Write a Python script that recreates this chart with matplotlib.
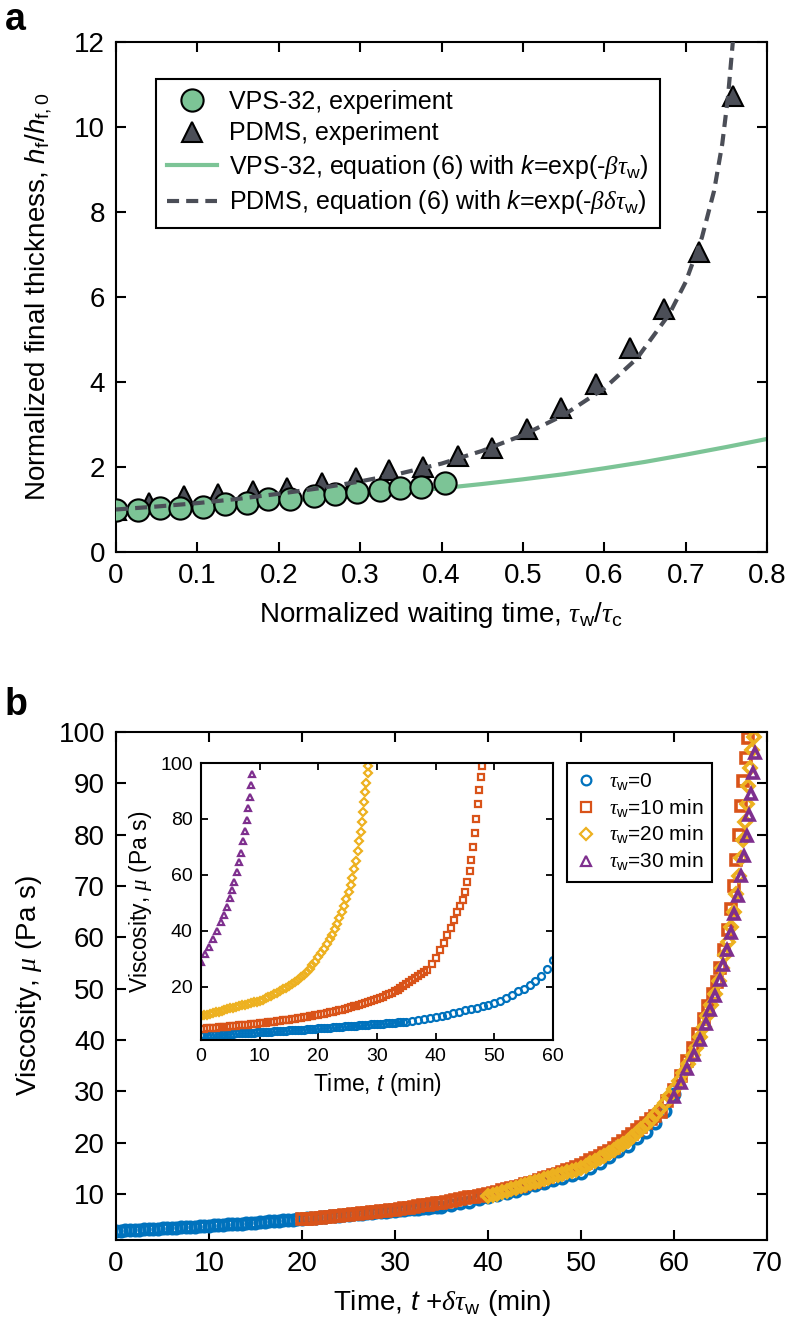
import numpy as np
import matplotlib
matplotlib.use("Agg")
import matplotlib.pyplot as plt
from matplotlib.lines import Line2D

plt.rcParams['font.family'] = ['Liberation Sans', 'DejaVu Sans']
plt.rcParams['mathtext.fontset'] = 'custom'
plt.rcParams['mathtext.rm'] = 'Liberation Sans'
plt.rcParams['mathtext.it'] = 'Liberation Sans:italic'
plt.rcParams['mathtext.bf'] = 'Liberation Sans:bold'
plt.rcParams['mathtext.sf'] = 'Liberation Serif:italic'

# ---------------- panel a data ----------------
vps_x = [0.0, 0.027, 0.054, 0.079, 0.107, 0.134, 0.161, 0.187, 0.214, 0.243,
         0.269, 0.296, 0.324, 0.349, 0.375, 0.404]
vps_y = [1.0, 1.0, 1.04, 1.03, 1.07, 1.12, 1.16, 1.25, 1.24, 1.32,
         1.37, 1.41, 1.45, 1.50, 1.53, 1.63]
pdms_x = [0.0, 0.041, 0.083, 0.125, 0.168, 0.21, 0.253, 0.295, 0.336, 0.377,
          0.42, 0.462, 0.505, 0.547, 0.59, 0.632, 0.673, 0.716, 0.758]
pdms_y = [1.0, 1.16, 1.32, 1.37, 1.44, 1.51, 1.63, 1.75, 1.92, 2.0,
          2.26, 2.45, 2.9, 3.4, 3.95, 4.8, 5.72, 7.05, 10.72]
vps_fit_x = [0, 0.05, 0.1, 0.15, 0.2, 0.25, 0.3, 0.35, 0.4, 0.45, 0.5, 0.55,
             0.6, 0.65, 0.7, 0.75, 0.8]
vps_fit_y = [1.0, 1.04, 1.08, 1.13, 1.19, 1.26, 1.33, 1.41, 1.5, 1.6, 1.71, 1.83,
             1.97, 2.12, 2.29, 2.47, 2.66]
pdms_fit_x = [0, 0.05, 0.1, 0.15, 0.2, 0.25, 0.3, 0.35, 0.4, 0.45, 0.5, 0.55,
              0.6, 0.64, 0.68, 0.7, 0.72, 0.735, 0.745, 0.752, 0.758, 0.762]
pdms_fit_y = [1.0, 1.07, 1.15, 1.25, 1.37, 1.5, 1.66, 1.85, 2.08, 2.38, 2.75, 3.22,
              3.85, 4.55, 5.6, 6.35, 7.4, 8.5, 9.6, 10.7, 12.0, 13.0]
a_xticks = [0, 0.1, 0.2, 0.3, 0.4, 0.5, 0.6, 0.7, 0.8]
a_xticklabels = ['0', '0.1', '0.2', '0.3', '0.4', '0.5', '0.6', '0.7', '0.8']
a_yticks = [0, 2, 4, 6, 8, 10, 12]

# ---------------- panel b data ----------------
# tau_w = 0 (blue circles)
t0 = list(np.arange(0, 35.01, 0.5)) + list(range(36, 61))
mu0 = [2.80, 2.84, 2.88, 2.93, 2.97, 3.02, 3.06, 3.11, 3.15, 3.20, 3.25, 3.30,
       3.35, 3.40, 3.45, 3.50, 3.56, 3.61, 3.67, 3.73, 3.79, 3.85, 3.91, 3.97,
       4.03, 4.09, 4.15, 4.21, 4.28, 4.34, 4.41, 4.47, 4.54, 4.61, 4.68, 4.75,
       4.82, 4.89, 4.97, 5.04, 5.12, 5.19, 5.27, 5.35, 5.43, 5.51, 5.59, 5.67,
       5.75, 5.83, 5.91, 5.99, 6.07, 6.15, 6.23, 6.31, 6.39, 6.47, 6.55, 6.63,
       6.71, 6.79, 6.87, 6.95, 7.03, 7.11, 7.19, 7.27, 7.35, 7.43, 7.52,
       7.9, 8.2, 8.5, 8.9, 9.3, 9.7, 10.1, 10.6, 11.1, 11.7, 12.2, 12.6, 13.1,
       13.6, 14.1, 15.0, 16.0, 17.2, 18.4, 19.4, 20.8, 22.0, 23.8, 26.2, 29.5]
# tau_w = 10 min (red squares)
t10 = list(np.arange(0, 38.01, 0.5)) + [38.6, 39.3, 40.0, 40.7, 41.4, 42.0, 42.6,
                                        43.2, 43.7, 44.2, 44.6, 45.0, 45.4, 45.8,
                                        46.1, 46.4, 46.7, 46.95, 47.2, 47.45, 47.7,
                                        47.95]
mu10 = [5.00, 5.09, 5.18, 5.27, 5.36, 5.45, 5.54, 5.63, 5.72, 5.81, 5.90,
        6.00, 6.10, 6.20, 6.30, 6.40, 6.50, 6.60, 6.70, 6.80, 6.90,
        7.03, 7.17, 7.31, 7.45, 7.59, 7.73, 7.87, 8.01, 8.15, 8.30,
        8.46, 8.62, 8.79, 8.96, 9.13, 9.30, 9.47, 9.64, 9.82, 10.00,
        10.22, 10.44, 10.67, 10.90, 11.14, 11.38, 11.62, 11.88, 12.14, 12.40,
        12.70, 13.00, 13.30, 13.61, 13.92, 14.24, 14.57, 14.90, 15.24, 15.60,
        16.05, 16.50, 16.95, 17.42, 17.90, 18.40,
        19.00, 19.62, 20.30, 21.00,
        21.7, 22.4, 23.1, 23.8, 24.5, 25.2,
        26.0, 28.0, 30.3, 33.0, 35.8, 38.5, 41.2, 44.0, 46.6, 49.0, 51.2,
        54.0, 57.5, 61.5, 65.5, 70.0, 75.0, 80.0, 85.5, 90.5, 95.0, 98.8]
# tau_w = 20 min (yellow diamonds)
t20 = list(np.arange(0, 22.01, 0.5)) + [22.4, 22.8, 23.2, 23.6, 24.0, 24.4, 24.8,
                                        25.2, 25.5, 25.8, 26.1, 26.4, 26.7, 26.95,
                                        27.2, 27.4, 27.6, 27.8, 28.0, 28.2, 28.4, 28.55]
mu20 = [9.50, 9.78, 10.06, 10.34, 10.62, 10.90, 11.18, 11.46, 11.74, 12.02, 12.30,
        12.57, 12.84, 13.11, 13.38, 13.65, 13.92, 14.19, 14.46, 14.73, 15.00,
        15.45, 15.92, 16.40, 16.90, 17.42, 17.95, 18.50, 19.07, 19.65, 20.25,
        21.0, 21.8, 22.6, 23.5, 24.4, 25.4, 26.5, 27.7, 29.0, 30.5,
        32.0, 33.6, 35.3, 37.1,
        38.5, 40.5, 42.5, 44.6, 46.8, 49.0, 51.5, 54.0, 56.5, 59.0, 62.0,
        65.0, 68.5, 72.0, 75.5, 79.0, 82.5, 86.0, 89.5, 93.0, 96.5, 99.0]
# tau_w = 30 min (purple triangles)
t30 = [0.0, 0.7, 1.4, 2.1, 2.8, 3.4, 3.9, 4.4, 4.9, 5.3, 5.7, 6.1, 6.5, 6.85,
       7.2, 7.5, 7.8, 8.05, 8.3, 8.5, 8.75]
mu30 = [28.9, 31.6, 34.3, 37.0, 40.0, 43.0, 45.8, 48.6, 51.6, 54.5, 57.6, 60.9,
        64.5, 68.0, 72.0, 75.8, 79.8, 83.8, 88.0, 92.0, 96.0]
shifts = [0, 20, 40, 60]   # delta * tau_w, delta = 2
b_labels = [r'$\mathsf{\tau}_{\rm w}$=0', r'$\mathsf{\tau}_{\rm w}$=10 min',
            r'$\mathsf{\tau}_{\rm w}$=20 min', r'$\mathsf{\tau}_{\rm w}$=30 min']
b_colors = ['#0072BD', '#D95319', '#EDB120', '#7E2F8E']
b_markers = ['o', 's', 'D', '^']

green = '#7cc496'
dark = '#4b4e57'

fig = plt.figure(figsize=(7.88, 13.33), dpi=100)
W, H = 788.0, 1333.0

# ---------------- panel a ----------------
ax = fig.add_axes([116 / W, 1 - 552 / H, 651 / W, 510 / H])
ax.plot(vps_fit_x, vps_fit_y, color=green, lw=3, zorder=1)
ax.plot(pdms_x, pdms_y, ls='none', marker='^', ms=14, mfc=dark, mec='k', mew=1.5, zorder=2)
ax.plot(vps_x, vps_y, ls='none', marker='o', ms=16, mfc=green, mec='k', mew=1.5, zorder=3)
ax.plot(pdms_fit_x, pdms_fit_y, color=dark, lw=3, dashes=(2.9, 1.7), zorder=4)
ax.set_xlim(0, 0.8)
ax.set_ylim(0, 12)
ax.set_xticks(a_xticks)
ax.set_xticklabels(a_xticklabels)
ax.set_yticks(a_yticks)
ax.tick_params(direction='in', length=7, width=1.5, top=True, right=True, labelsize=20, pad=8)
for s in ax.spines.values():
    s.set_linewidth(1.5)
ax.set_xlabel(r'Normalized waiting time, $\mathsf{\tau}_{\rm w}/\mathsf{\tau}_{\rm c}$', fontsize=20, labelpad=8)
ax.set_ylabel(r'Normalized final thickness, $h_{\rm f}/h_{\rm f,0}$', fontsize=20, labelpad=14)

hand_a = [
    Line2D([], [], ls='none', marker='o', ms=16, mfc=green, mec='k', mew=1.5),
    Line2D([], [], ls='none', marker='^', ms=14, mfc=dark, mec='k', mew=1.5),
    Line2D([], [], color=green, lw=3),
    Line2D([], [], color=dark, lw=3, dashes=(2.9, 1.7)),
]
lab_a = ['VPS-32, experiment', 'PDMS, experiment',
         r'VPS-32, equation (6) with $k$=exp(-$\mathsf{\beta\tau}_{\rm w}$)',
         r'PDMS, equation (6) with $k$=exp(-$\mathsf{\beta\delta\tau}_{\rm w}$)']
leg = ax.legend(hand_a, lab_a, loc='upper left', bbox_to_anchor=(0.061, 0.928),
                fontsize=18, frameon=True, fancybox=False, framealpha=1,
                edgecolor='k', handlelength=2.0, borderpad=0.45, labelspacing=0.3,
                handletextpad=0.5, borderaxespad=0)
leg.get_frame().set_linewidth(1.5)

# ---------------- panel b main ----------------
axb = fig.add_axes([116 / W, 1 - 1240 / H, 651 / W, 508 / H])
series = [(t0, mu0), (t10, mu10), (t20, mu20), (t30, mu30)]
for i, (tt, mm) in enumerate(series):
    axb.plot(np.array(tt) + shifts[i], mm, ls='none', marker=b_markers[i],
             ms=7.5 if b_markers[i] != 'D' else 6.5, mfc='none', mec=b_colors[i], mew=2.6)
axb.set_xlim(0, 70)
axb.set_ylim(1, 100)
axb.set_xticks(range(0, 71, 10))
axb.set_yticks(range(10, 101, 10))
axb.tick_params(direction='in', length=7, width=1.5, top=True, right=True, labelsize=20, pad=8)
for s in axb.spines.values():
    s.set_linewidth(1.5)
axb.set_xlabel(r'Time, $t$ +$\mathsf{\delta\tau}_{\rm w}$ (min)', fontsize=20, labelpad=8)
axb.set_ylabel(r'Viscosity, $\mathsf{\mu}$ (Pa s)', fontsize=20, labelpad=10)

hand_b = [Line2D([], [], ls='none', marker=b_markers[i], ms=7 if i != 2 else 6,
                 mfc='none', mec=b_colors[i], mew=1.6) for i in range(4)]
legb = axb.legend(hand_b, b_labels, loc='upper left', bbox_to_anchor=(0.693, 0.939),
                  fontsize=15, frameon=True, fancybox=False, framealpha=1,
                  edgecolor='k', handlelength=1.0, borderpad=0.4, labelspacing=0.22,
                  handletextpad=0.6, borderaxespad=0)
legb.get_frame().set_linewidth(1.5)

# ---------------- inset ----------------
axi = fig.add_axes([201 / W, 1 - 1040 / H, 352 / W, 277 / H])
for i, (tt, mm) in enumerate(series):
    axi.plot(tt, mm, ls='none', marker=b_markers[i],
             ms=5 if b_markers[i] != 'D' else 4.3, mfc='none', mec=b_colors[i], mew=1.6)
axi.set_xlim(0, 60)
axi.set_ylim(1, 100)
axi.set_xticks(range(0, 61, 10))
axi.set_yticks(range(20, 101, 20))
axi.tick_params(direction='in', length=5, width=1.3, top=True, right=True, labelsize=14, pad=6)
for s in axi.spines.values():
    s.set_linewidth(1.5)
axi.set_xlabel(r'Time, $t$ (min)', fontsize=16.5, labelpad=4)
axi.set_ylabel(r'Viscosity, $\mathsf{\mu}$ (Pa s)', fontsize=16.5, labelpad=4)

fig.text(5 / W, 1 - 30 / H, 'a', fontsize=27, fontweight='bold', va='baseline')
fig.text(5 / W, 1 - 715 / H, 'b', fontsize=27, fontweight='bold', va='baseline')

fig.savefig('out.png', dpi=100)
